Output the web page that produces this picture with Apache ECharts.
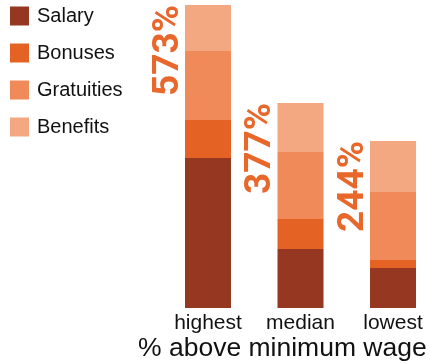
<!DOCTYPE html>
<html>
<head>
<meta charset="utf-8">
<script src="https://cdn.jsdelivr.net/npm/echarts@6/dist/echarts.min.js"></script>
<style>
  html, body { margin: 0; padding: 0; background: #fff; }
  #chart { width: 430px; height: 364px; }
</style>
</head>
<body>
<div id="chart"></div>
<script>
// Pay composition per tier (stacked units), bottom to top
const categories = ['highest', 'median', 'lowest'];
const salary     = [150, 59, 40];
const bonuses    = [38, 30, 8];
const gratuities = [69, 67, 68];
const benefits   = [46, 49, 51];
// Total pay stated as percent above minimum wage
const pctLabels  = ['573%', '377%', '244%'];

const seriesNames  = ['Salary', 'Bonuses', 'Gratuities', 'Benefits'];
const seriesValues = [salary, bonuses, gratuities, benefits];
const colors = ['#963721', '#e56225', '#f08a58', '#f3a882'];

const chart = echarts.init(document.getElementById('chart'), null, { renderer: 'canvas' });

const series = seriesNames.map((name, i) => {
  const s = {
    name: name,
    type: 'bar',
    stack: 'pay',
    barWidth: 46,
    data: seriesValues[i],
    itemStyle: { color: colors[i] },
    emphasis: { disabled: true }
  };
  if (i === seriesNames.length - 1) {
    // Rotated total label hugging the left side of each bar's top
    s.label = {
      show: true,
      position: [2, 0],
      rotate: 90,
      align: 'right',
      verticalAlign: 'bottom',
      formatter: p => pctLabels[p.dataIndex],
      fontFamily: 'Roboto',
      fontWeight: 'bold',
      fontSize: 37,
      color: '#e8682c'
    };
  }
  return s;
});

chart.setOption({
  animation: false,
  backgroundColor: '#ffffff',
  color: colors,
  title: {
    text: '% above minimum wage',
    left: 138,
    top: 335,
    padding: 0,
    textStyle: {
      fontFamily: 'Liberation Sans',
      fontWeight: 'normal',
      fontSize: 26.5,
      color: '#111'
    }
  },
  legend: {
    orient: 'vertical',
    left: 10,
    top: 6,
    padding: 0,
    itemWidth: 19,
    itemHeight: 19,
    itemGap: 17,
    icon: 'rect',
    selectedMode: false,
    data: seriesNames,
    textStyle: {
      fontFamily: 'Liberation Sans',
      fontSize: 20,
      color: '#111',
      padding: [0, 0, 0, 3]
    }
  },
  // Category points sit on the grid edges (boundaryGap false)
  grid: { left: 208, right: 37, top: 5, bottom: 56, containLabel: false },
  xAxis: {
    type: 'category',
    data: categories,
    boundaryGap: false,
    axisLine: { show: false },
    axisTick: { show: false },
    axisLabel: {
      interval: 0,
      fontFamily: 'Liberation Sans',
      fontSize: 21,
      color: '#111',
      margin: 5
    }
  },
  yAxis: {
    type: 'value',
    min: 0,
    max: 303,
    show: false,
    splitLine: { show: false }
  },
  series: series
});
</script>
</body>
</html>
